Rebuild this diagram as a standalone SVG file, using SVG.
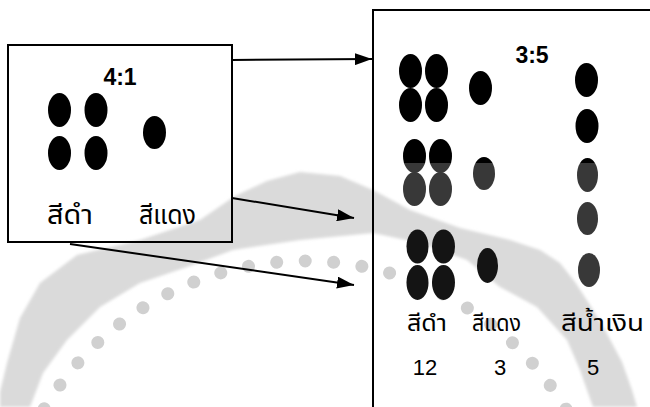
<svg xmlns="http://www.w3.org/2000/svg" width="650" height="407" viewBox="0 0 650 407">
  <style>
    .frame { fill: none; stroke: #000000; stroke-width: 2; }
    .bead { fill: #000000; }
    .bead-split { fill: url(#splitShade); }
    .bead-grey { fill: #383838; }
    .bead-dark { fill: #141414; }
    .ratio { font-family: "Liberation Sans", Arial, sans-serif; font-weight: bold; font-size: 23px; fill: #000000; }
    .th-big { font-family: "Noto Sans Thai", "Liberation Sans", "DejaVu Sans", sans-serif; font-size: 27px; fill: #000000; }
    .th-small { font-family: "Noto Sans Thai", "Liberation Sans", "DejaVu Sans", sans-serif; font-size: 23px; fill: #000000; }
    .count { font-family: "Liberation Sans", Arial, sans-serif; font-size: 22px; fill: #000000; }
    .link { fill: none; stroke: #000000; stroke-width: 2; }
    .seal-band { fill: #dadada; filter: url(#soft); }
    .seal-dots { fill: none; stroke: #d0d0d0; stroke-width: 13; stroke-linecap: round; stroke-dasharray: 0.01 28.5; stroke-dashoffset: -4.9; }
  </style>
  <defs>
    <marker id="arrow" viewBox="0 0 17 12" refX="17" refY="6" markerWidth="17" markerHeight="12" markerUnits="userSpaceOnUse" orient="auto">
      <path d="M0,0 L17,6 L0,12 Z" fill="#000000"/>
    </marker>
    <!-- beads that are black above y=163 and dark grey below -->
    <linearGradient id="splitShade" gradientUnits="userSpaceOnUse" x1="0" y1="0" x2="0" y2="407">
      <stop offset="0.4005" stop-color="#000000"/>
      <stop offset="0.4005" stop-color="#383838"/>
    </linearGradient>
    <filter id="soft" x="-5%" y="-5%" width="110%" height="110%">
      <feGaussianBlur stdDeviation="1.5"/>
    </filter>
  </defs>

  <rect width="650" height="407" fill="#ffffff"/>

  <!-- faint seal printed behind the page content -->
  <g id="seal">
    <path class="seal-band" d="M0,392 L7,363 L20,318 L40,283 L77,255 L140,240 L200,220 L235,196 L267,181 L300,172 L340,176 L373,190 L410,210 L460,228 L510,240 L540,250 L560,263 L575,282 L590,305 L605,330 L622,362 L632,390 L637,407 L593,407 L580,370 L567,340 L537,307 L500,287 L467,260 L420,243 L373,233 L300,240 L233,250 L187,267 L140,283 L100,307 L67,340 L43,373 L30,407 L0,407 Z"/>
    <path class="seal-dots" d="M41.7,413 A304,304 0 0 1 580.5,436.5"/>
  </g>

  <!-- parent generation: 4 black : 1 red -->
  <g id="parents">
    <rect class="frame" x="8" y="45" width="224" height="197"/>
    <text class="ratio" x="120" y="85" text-anchor="middle">4:1</text>
    <ellipse class="bead" cx="59.5" cy="110" rx="11.5" ry="17"/>
    <ellipse class="bead" cx="96" cy="110" rx="11.5" ry="17"/>
    <ellipse class="bead" cx="59.5" cy="153" rx="11.5" ry="17"/>
    <ellipse class="bead" cx="96" cy="153" rx="11.5" ry="17"/>
    <ellipse class="bead" cx="154.5" cy="132.5" rx="11.5" ry="16.5"/>
    <text class="th-big" x="47" y="224" textLength="46" lengthAdjust="spacingAndGlyphs">สีดำ</text>
    <text class="th-big" x="139" y="224" textLength="57" lengthAdjust="spacingAndGlyphs">สีแดง</text>
  </g>

  <!-- offspring: 12 black, 3 red, 5 blue -->
  <g id="offspring">
    <rect class="frame" x="373" y="10" width="300" height="420"/>
    <text class="ratio" x="532" y="63" text-anchor="middle">3:5</text>
    <ellipse class="bead" cx="410.5" cy="71" rx="11.5" ry="17"/>
    <ellipse class="bead" cx="436.5" cy="71" rx="11.5" ry="17"/>
    <ellipse class="bead" cx="410.5" cy="105" rx="11.5" ry="17"/>
    <ellipse class="bead" cx="436.5" cy="105" rx="11.5" ry="17"/>
    <ellipse class="bead-split" cx="414.5" cy="156" rx="11.5" ry="17"/>
    <ellipse class="bead-split" cx="440.5" cy="156" rx="11.5" ry="17"/>
    <ellipse class="bead-grey" cx="414.5" cy="189" rx="11.5" ry="17"/>
    <ellipse class="bead-grey" cx="440.5" cy="189" rx="11.5" ry="17"/>
    <ellipse class="bead-dark" cx="417.5" cy="246.5" rx="11" ry="17"/>
    <ellipse class="bead-dark" cx="443.5" cy="246.5" rx="11.5" ry="17"/>
    <ellipse class="bead-dark" cx="417.5" cy="282.5" rx="11" ry="17.5"/>
    <ellipse class="bead-dark" cx="443.5" cy="282.5" rx="11.5" ry="17.5"/>
    <ellipse class="bead" cx="480.5" cy="88" rx="11.5" ry="17"/>
    <ellipse class="bead-split" cx="484" cy="173.5" rx="11" ry="16.5"/>
    <ellipse class="bead-dark" cx="487.5" cy="265.5" rx="10.5" ry="17.5"/>
    <ellipse class="bead" cx="586.5" cy="80" rx="11.5" ry="17"/>
    <ellipse class="bead" cx="587" cy="126" rx="11.5" ry="17"/>
    <ellipse class="bead-split" cx="587.5" cy="175" rx="10.5" ry="17"/>
    <ellipse class="bead-grey" cx="587.5" cy="218.5" rx="10.5" ry="16.5"/>
    <ellipse class="bead-grey" cx="589" cy="270" rx="11" ry="17"/>
    <text class="th-small" x="407" y="331" textLength="40" lengthAdjust="spacingAndGlyphs">สีดำ</text>
    <text class="th-small" x="472" y="331" textLength="49" lengthAdjust="spacingAndGlyphs">สีแดง</text>
    <text class="th-small" x="561" y="331" textLength="83" lengthAdjust="spacingAndGlyphs">สีน้ำเงิน</text>
    <text class="count" x="425" y="375" text-anchor="middle">12</text>
    <text class="count" x="500" y="375" text-anchor="middle">3</text>
    <text class="count" x="593" y="375" text-anchor="middle">5</text>
  </g>

  <g id="connectors">
    <path class="link" d="M232,60 L372,59" marker-end="url(#arrow)"/>
    <path class="link" d="M232,198 L354,218" marker-end="url(#arrow)"/>
    <path class="link" d="M70,244 L354,285" marker-end="url(#arrow)"/>
  </g>
</svg>
